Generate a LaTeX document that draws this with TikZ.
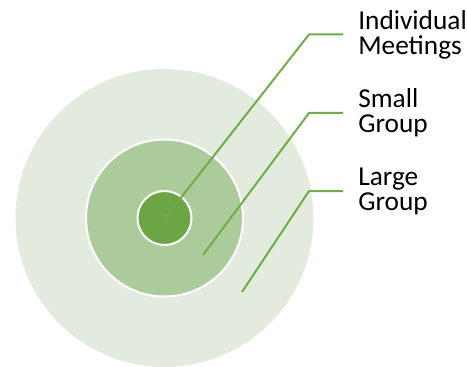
\documentclass[tikz,border=0pt]{standalone}
\usepackage{fontspec}
\setmainfont{Carlito}
\definecolor{outerfill}{HTML}{E2EBDD}
\definecolor{midfill}{HTML}{ABCB9B}
\definecolor{innerfill}{HTML}{6CA543}
\definecolor{leader}{HTML}{70AD47}
\tikzset{
  disc/.style={circle, inner sep=0pt},
  leaderline/.style={draw=leader, line width=1.5pt},
  lbl/.style={anchor=west, align=left, inner xsep=11.25pt, inner ysep=0pt,
    font=\fontsize{20.5pt}{18.8pt}\selectfont}
}
\begin{document}
\begin{tikzpicture}[x=0.75pt, y=-0.75pt]
\useasboundingbox (0,0) rectangle (467,367);
\node[disc, fill=outerfill, minimum size=223.5pt] (large) at (164.5,218) {};
\node[disc, fill=midfill, draw=white, line width=1.5pt, minimum size=117.75pt] (small) at (164.5,218) {};
\node[disc, fill=innerfill, draw=white, line width=1.5pt, minimum size=40.5pt] (indiv) at (164.5,218) {};
\coordinate (s1) at (165,218);
\coordinate (s2) at (203,255);
\coordinate (s3) at (242,292);
\coordinate (b1) at (309,34.5);
\coordinate (b2) at (309,113);
\coordinate (b3) at (309,191);
\node[lbl] (t1) at (343,34.5) {Individual\\Meetings};
\node[lbl] (t2) at (343,113) {Small\\Group};
\node[lbl] (t3) at (343,191) {Large\\Group};
\path[leaderline] (s1) -- (b1) -- (t1.west);
\path[leaderline] (s2) -- (b2) -- (t2.west);
\path[leaderline] (s3) -- (b3) -- (t3.west);
\end{tikzpicture}
\end{document}
